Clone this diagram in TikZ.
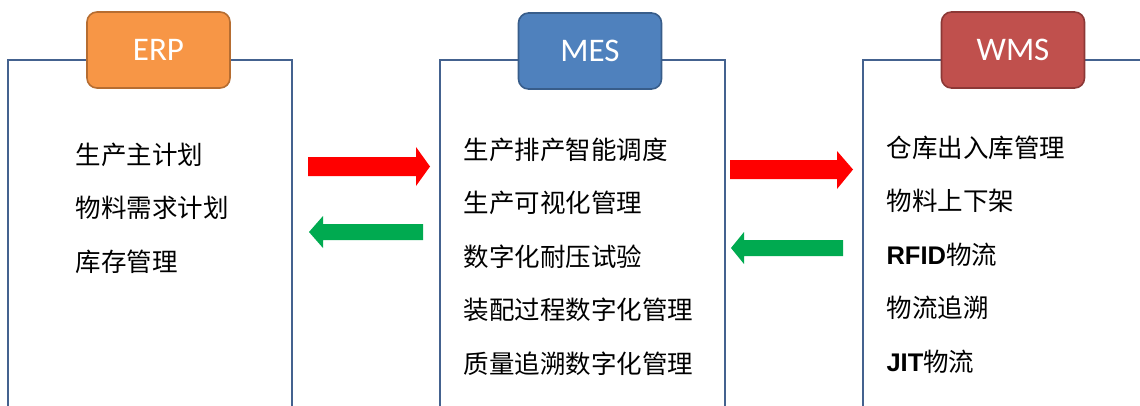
\documentclass[tikz,border=0pt]{standalone}
\usepackage{fontspec}
\setmainfont{Liberation Sans}
\newfontfamily\cjk{Noto Sans CJK SC}
\newfontfamily\tagfont{Carlito}
\usetikzlibrary{matrix}
\definecolor{panelblue}{HTML}{44628F}
\definecolor{erpfill}{HTML}{F79646}
\definecolor{erpline}{HTML}{B66D31}
\definecolor{mesfill}{HTML}{4F81BD}
\definecolor{mesline}{HTML}{385D8A}
\definecolor{wmsfill}{HTML}{C0504D}
\definecolor{wmsline}{HTML}{8C3836}
\definecolor{arrowgreen}{HTML}{00AA50}
\newcommand\latinb[1]{{\rmfamily\bfseries #1}}

\begin{document}
\begin{tikzpicture}[x=1pt,y=-1pt,
        panel/.style={draw=panelblue, line width=2.2pt},
        tag/.style={draw, rounded corners=10pt, line width=1.6pt, minimum width=143pt, minimum height=76pt, text=white, font=\tagfont\fontsize{33}{33}\selectfont},
        list/.style={matrix of nodes, row sep=27pt, nodes={anchor=west, inner sep=0pt, text height=20.5pt, text depth=6pt, font=\cjk\fontsize{25.5}{25.5}\selectfont}}]
        \useasboundingbox (0,0) rectangle (1140,405);
        % panels, open at the bottom
        \draw[panel] (8,410) |- (292,60) -- (292,410);
        \draw[panel] (440,410) |- (725,60) -- (725,410);
        \draw[panel] (863,410) |- (1145,60);
        % system tags
        \node[tag, fill=erpfill, draw=erpline] (erp) at (158.5,50) {ERP};
        \node[tag, fill=mesfill, draw=mesline] (mes) at (590,51) {MES};
        \node[tag, fill=wmsfill, draw=wmsline] (wms) at (1013,50) {WMS};
        % functions
        \matrix[list, anchor=north west] (erplist) at (72,140) {
        生产主计划 \\ 物料需求计划 \\ 库存管理 \\};
        \matrix[list, anchor=north west] (meslist) at (460,135) {
        生产排产智能调度 \\ 生产可视化管理 \\ 数字化耐压试验 \\ 装配过程数字化管理 \\ 质量追溯数字化管理 \\};
        \matrix[list, anchor=north west] (wmslist) at (883,133) {
        仓库出入库管理 \\ 物料上下架 \\ \latinb{RFID}物流 \\ 物流追溯 \\ \latinb{JIT}物流 \\};
        % data flow
        \fill[red] (308,157) -- (416,157) -- (416,147) -- (430,166.5) -- (416,186) -- (416,176) -- (308,176) -- cycle;
        \fill[arrowgreen] (423,224) -- (323,224) -- (323,216) -- (309,232) -- (323,248) -- (323,240) -- (423,240) -- cycle;
        \fill[red] (730,160) -- (837,160) -- (837,151) -- (853,169.5) -- (837,189) -- (837,179) -- (730,179) -- cycle;
        \fill[arrowgreen] (843,240) -- (744,240) -- (744,232) -- (731,248) -- (744,264) -- (744,256) -- (843,256) -- cycle;
    \end{tikzpicture}
\end{document}
